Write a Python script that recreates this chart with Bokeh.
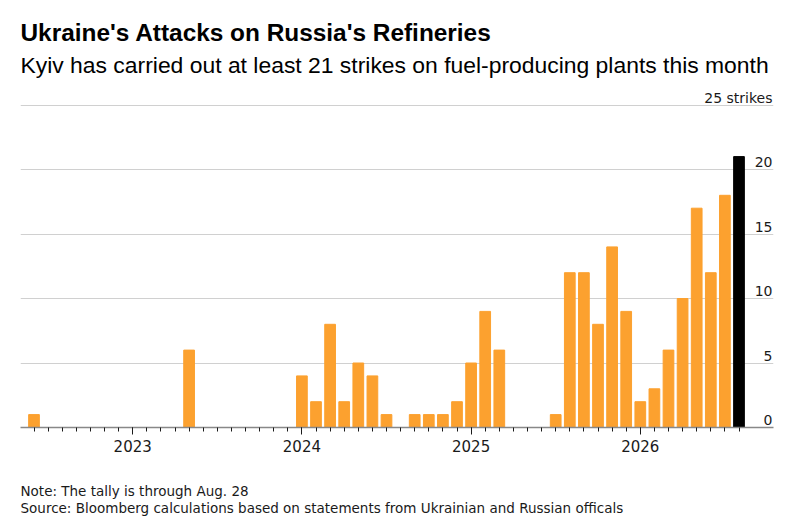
from bokeh.plotting import figure
from bokeh.models import ColumnDataSource, FixedTicker, Label, Title
from bokeh.core.properties import value
from bokeh.embed import file_html
from bokeh.resources import INLINE

# ---- data -------------------------------------------------------------
months = [
    "2022-06", "2022-07", "2022-08", "2022-09", "2022-10", "2022-11", "2022-12",
    "2023-01", "2023-02", "2023-03", "2023-04", "2023-05", "2023-06", "2023-07",
    "2023-08", "2023-09", "2023-10", "2023-11", "2023-12",
    "2024-01", "2024-02", "2024-03", "2024-04", "2024-05", "2024-06", "2024-07",
    "2024-08", "2024-09", "2024-10", "2024-11", "2024-12",
    "2025-01", "2025-02", "2025-03", "2025-04", "2025-05", "2025-06", "2025-07",
    "2025-08", "2025-09", "2025-10", "2025-11", "2025-12",
    "2026-01", "2026-02", "2026-03", "2026-04", "2026-05", "2026-06", "2026-07",
    "2026-08",
]
strikes = [
    1, 0, 0, 0, 0, 0, 0,
    0, 0, 0, 0, 6, 0, 0, 0, 0, 0, 0, 0,
    4, 2, 8, 2, 5, 4, 1, 0, 1, 1, 1, 2,
    5, 9, 6, 0, 0, 0, 1, 12, 12, 8, 14, 9,
    2, 3, 6, 10, 17, 12, 18,
    21,
]
year_labels = ["2023", "2024", "2025", "2026"]
y_ticks = [0, 5, 10, 15, 20, 25]
y_tick_labels = ["0", "5", "10", "15", "20", "25 strikes"]

title = "Ukraine's Attacks on Russia's Refineries"
subtitle = "Kyiv has carried out at least 21 strikes on fuel-producing plants this month"
note = "Note: The tally is through Aug. 28"
source_txt = "Source: Bloomberg calculations based on statements from Ukrainian and Russian officals"

# ---- derived ----------------------------------------------------------
x = list(range(len(months)))
ORANGE = "#FCA12F"
colors = [ORANGE] * (len(months) - 1) + ["#000000"]
jan_idx = [i for i, m in enumerate(months) if m.endswith("-01")]

HEAD = "Liberation Sans"
SMALL = "DejaVu Sans"

W, H = 800, 527
BASE = 427          # pixel row of the zero line
LEFT, RIGHT = 20, 773
px_y = 12.9
px_x = 14.1
x0 = (LEFT - 33.5) / px_x
x1 = x0 + (RIGHT - LEFT) / px_x
y_end = BASE / px_y

p = figure(width=W, height=H, output_backend="svg", toolbar_location=None,
           x_range=(x0, x1), y_range=(0, y_end),
           y_axis_location=None, min_border_left=LEFT, min_border_right=W - RIGHT,
           min_border_top=0, min_border_bottom=H - BASE)
p.outline_line_color = None
p.background_fill_color = "white"
p.border_fill_color = "white"

p.xgrid.visible = False
p.ygrid.ticker = FixedTicker(ticks=y_ticks[1:])
p.ygrid.grid_line_color = "#d0d0d0"
p.ygrid.grid_line_width = 1

src = ColumnDataSource(dict(x=x, top=strikes, color=colors))
p.vbar(x="x", top="top", bottom=0, width=0.76, color="color", source=src)

# x axis
p.xaxis.ticker = FixedTicker(ticks=jan_idx, minor_ticks=x)
p.xaxis.major_label_overrides = {i: lab for i, lab in zip(jan_idx, year_labels)}
p.xaxis.axis_line_color = "#888888"
p.xaxis.axis_line_width = 1.5
p.xaxis.major_tick_line_color = "#1a1a1a"
p.xaxis.minor_tick_line_color = "#1a1a1a"
p.xaxis.major_tick_in = 0
p.xaxis.major_tick_out = 7
p.xaxis.minor_tick_in = 0
p.xaxis.minor_tick_out = 4
p.xaxis.major_label_standoff = 5
p.xaxis.major_label_text_font = SMALL
p.xaxis.major_label_text_font_size = "15px"
p.xaxis.major_label_text_color = "#1a1a1a"


def py(page_y):
    return (BASE - page_y) / px_y


# y tick labels drawn inside the plot, right aligned above each gridline
ylab = ColumnDataSource(dict(x=[x1 - 1 / px_x] * len(y_ticks),
                             y=[v + 7.5 / px_y for v in y_ticks],
                             t=y_tick_labels))
p.text(x="x", y="y", text="t", source=ylab, text_align="right",
       text_baseline="alphabetic", text_font=value(SMALL),
       text_font_size="14px", text_color="#1a1a1a")

p.add_layout(Label(x=x0, y=py(32), text=title, text_font=HEAD,
                   text_font_style="bold", text_font_size="24.4px",
                   text_color="#000000", text_baseline="alphabetic"))
p.add_layout(Label(x=x0, y=py(64), text=subtitle, text_font=HEAD,
                   text_font_size="22.9px", text_color="#000000",
                   text_baseline="alphabetic"))

# footer: a leading empty line keeps the note clear of the axis labels
p.add_layout(Title(text="\n" + note + "\n" + source_txt, align="left",
                   text_font=SMALL, text_font_size="13.5px",
                   text_font_style="normal", text_line_height=1.08,
                   text_color="#1a1a1a", standoff=17), "below")

open("out.html", "w").write(file_html(p, INLINE))
